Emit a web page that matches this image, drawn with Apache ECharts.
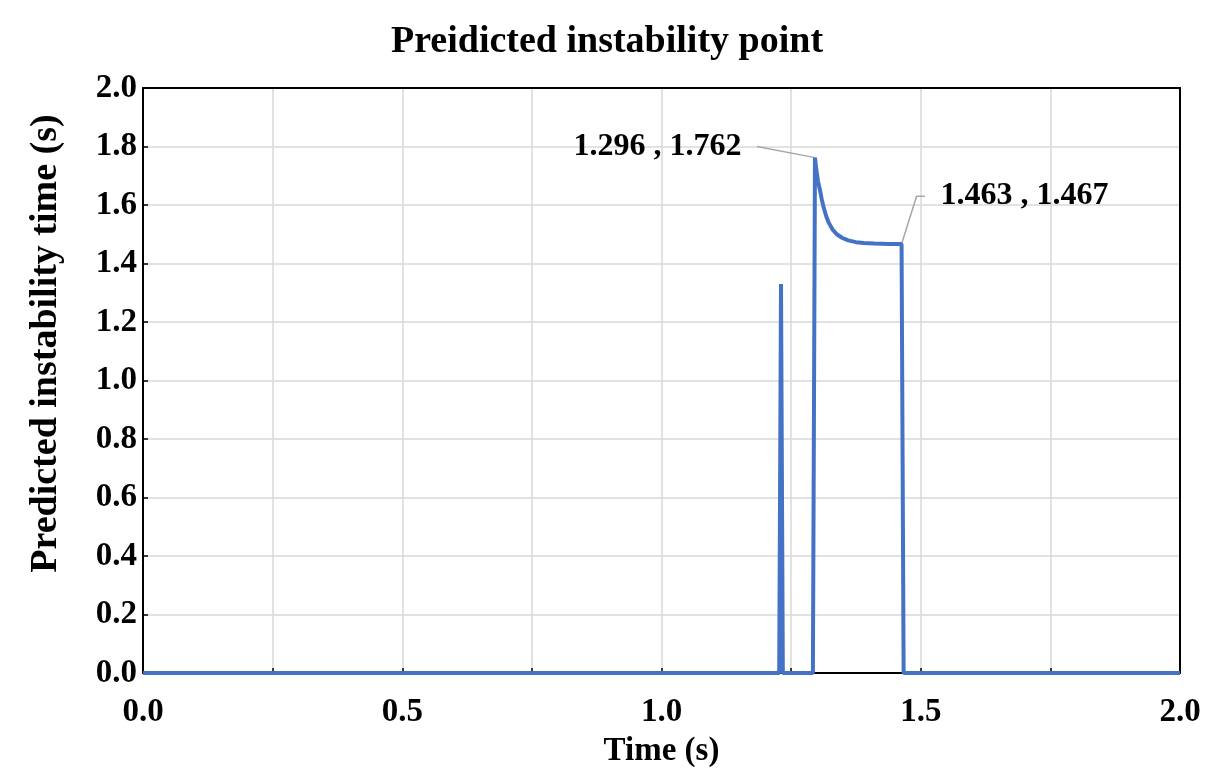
<!DOCTYPE html>
<html>
<head>
<meta charset="utf-8">
<script src="https://cdn.jsdelivr.net/npm/echarts@6/dist/echarts.min.js"></script>
<style>
  html, body { margin: 0; padding: 0; background: #fff; }
  #main { width: 1214px; height: 773px; }
</style>
</head>
<body>
<div id="main"></div>
<script>
var chart = echarts.init(document.getElementById('main'));

// predicted instability time vs time
var timeVals = [0, 1.227, 1.2305, 1.234, 1.292, 1.296, 1.299, 1.302, 1.306, 1.309, 1.313, 1.318, 1.323, 1.330, 1.338, 1.348, 1.360, 1.375, 1.390, 1.410, 1.440, 1.463, 1.467, 2.0];
var predVals = [0, 0, 1.33, 0, 0, 1.762, 1.715, 1.680, 1.648, 1.620, 1.590, 1.560, 1.538, 1.516, 1.500, 1.488, 1.479, 1.473, 1.470, 1.468, 1.467, 1.467, 0, 0];

// callouts: [point, leader end], label text
var note1 = [[1.296, 1.762], [1.184, 1.800]];
var note1Text = '1.296 , 1.762';
var note2 = [[1.463, 1.467], [1.492, 1.630], [1.508, 1.630]];
var note2Text = '1.463 , 1.467';

var font = '"Liberation Serif", "Times New Roman", serif';
var lineData = timeVals.map(function (t, i) { return [t, predVals[i]]; });

function leader(pts, text, pos) {
    return {
        type: 'line',
        xAxisIndex: 0,
        yAxisIndex: 0,
        data: pts.map(function (p, i) {
            return {
                value: p,
                label: {
                    show: i === pts.length - 1,
                    position: pos,
                    distance: 15,
                    formatter: text,
                    fontFamily: font,
                    fontWeight: 'bold',
                    fontSize: 32,
                    color: '#000'
                }
            };
        }),
        symbol: 'circle',
        symbolSize: 1,
        showAllSymbol: true,
        itemStyle: { color: 'rgba(0,0,0,0)' },
        lineStyle: { color: '#a6a6a6', width: 1.5 },
        silent: true,
        z: 3
    };
}

var frameAxis = {
    min: 0, max: 2.0,
    axisLine: { show: true, onZero: false, lineStyle: { color: '#000', width: 2 } },
    axisTick: { show: false },
    axisLabel: { show: false },
    splitLine: { show: false }
};

var option = {
    animation: false,
    title: {
        text: 'Preidicted instability point',
        left: 'center',
        top: 18,
        textStyle: { fontFamily: font, fontWeight: 'bold', fontSize: 38, color: '#000' }
    },
    grid: { left: 143, right: 34, top: 88, bottom: 89 },
    xAxis: [{
        type: 'value',
        min: 0, max: 2.0, interval: 0.25,
        name: 'Time (s)',
        nameLocation: 'middle',
        nameGap: 62,
        nameTextStyle: { fontFamily: font, fontWeight: 'bold', fontSize: 33, color: '#000' },
        axisLine: { onZero: false, lineStyle: { color: '#000', width: 2 } },
        axisTick: { inside: true, length: 5, lineStyle: { color: '#000', width: 1.5 } },
        axisLabel: {
            margin: 23,
            fontFamily: font, fontWeight: 'bold', fontSize: 33, color: '#000',
            formatter: function (v) {
                return Math.abs(v * 2 - Math.round(v * 2)) < 1e-6 ? v.toFixed(1) : '';
            }
        },
        splitLine: { show: true, lineStyle: { color: '#d9d9d9', width: 1.5 } }
    }, Object.assign({ type: 'value', position: 'top', interval: 0.25 }, frameAxis)],
    yAxis: [{
        type: 'value',
        min: 0, max: 2.0, interval: 0.2,
        name: 'Predicted instability time (s)',
        nameLocation: 'middle',
        nameGap: 78,
        nameTextStyle: {
            fontFamily: font, fontWeight: 'bold', fontSize: 38, color: '#000',
            padding: [0, 0, 0, 74]
        },
        axisLine: { show: true, onZero: false, lineStyle: { color: '#000', width: 2 } },
        axisTick: { show: true, inside: true, length: 5, lineStyle: { color: '#000', width: 1.5 } },
        axisLabel: {
            margin: 6,
            fontFamily: font, fontWeight: 'bold', fontSize: 33, color: '#000',
            formatter: function (v) { return v.toFixed(1); }
        },
        splitLine: { show: true, lineStyle: { color: '#d9d9d9', width: 1.5 } }
    }, Object.assign({ type: 'value', position: 'right', interval: 0.2 }, frameAxis)],
    series: [
        {
            type: 'line',
            data: lineData,
            symbol: 'none',
            lineStyle: { color: '#4472C4', width: 4 },
            z: 4
        },
        leader(note1, note1Text, 'left'),
        leader(note2, note2Text, 'right')
    ]
};

chart.setOption(option);
</script>
</body>
</html>
